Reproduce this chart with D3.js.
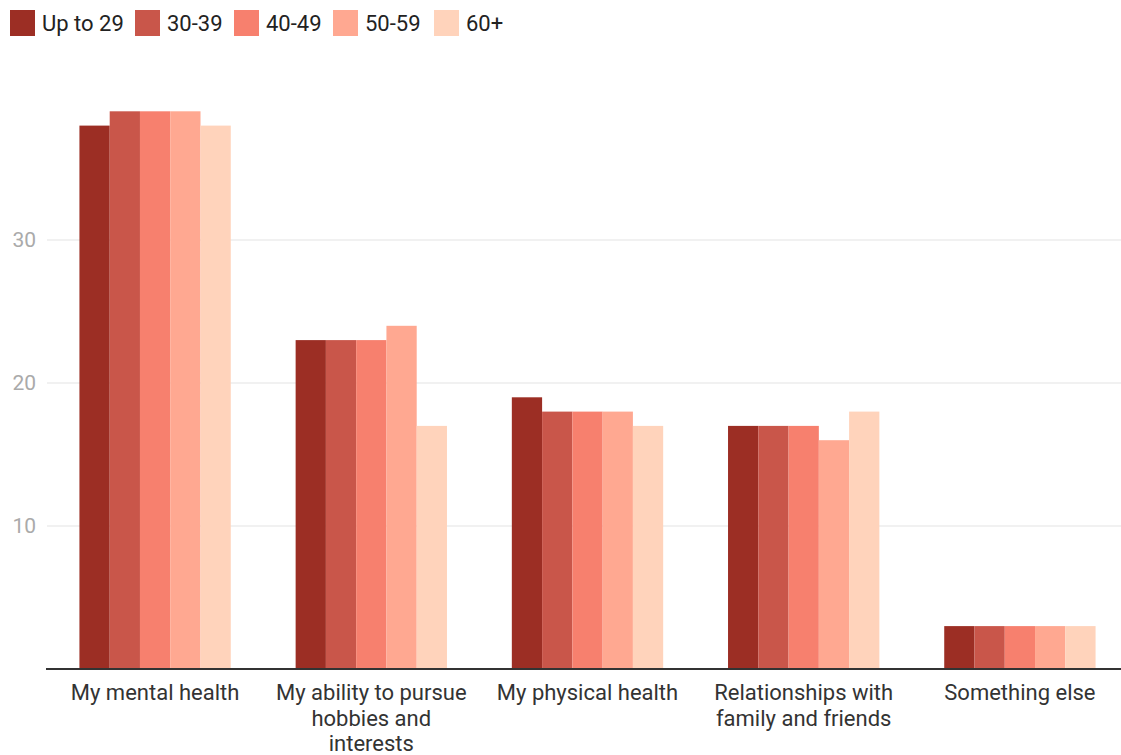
<!DOCTYPE html>
<html>
<head>
<meta charset="utf-8">
<script src="https://cdn.jsdelivr.net/npm/d3@7"></script>
<style>
  html, body { margin: 0; padding: 0; background: #fff; }
  svg { display: block; font-family: Roboto, "Noto Sans", sans-serif; }
</style>
</head>
<body>
<svg id="chart" width="1121" height="755"></svg>
<script>
// Survey categories and age groups
const categories = [
  "My mental health",
  "My ability to pursue hobbies and interests",
  "My physical health",
  "Relationships with family and friends",
  "Something else"
];
const ageGroups = ["Up to 29", "30-39", "40-49", "50-59", "60+"];

// Values per age group, in category order
const upTo29 = [38, 23, 19, 17, 3];
const age30s = [39, 23, 18, 17, 3];
const age40s = [39, 23, 18, 17, 3];
const age50s = [39, 24, 18, 16, 3];
const age60p = [38, 17, 17, 18, 3];

const yTicks = [10, 20, 30];
const colors = ["#9c2e24", "#c9564a", "#f7806e", "#ffa891", "#ffd3bb"];

const seriesValues = [upTo29, age30s, age40s, age50s, age60p];

const svg = d3.select("#chart");
const W = 1121;

const x0 = d3.scaleBand().domain(categories).range([47, 1128])
  .paddingInner(0.3).paddingOuter(0.15);
const x1 = d3.scaleBand().domain(ageGroups).range([0, x0.bandwidth()]);
const y = d3.scaleLinear().domain([0, 10]).range([669, 526]);
const color = d3.scaleOrdinal().domain(ageGroups).range(colors);

// Gridlines and y tick labels
const grid = svg.append("g");
grid.selectAll("line").data(yTicks).join("line")
  .attr("x1", 47).attr("x2", W)
  .attr("y1", d => y(d)).attr("y2", d => y(d))
  .attr("stroke", "#e3e3e3").attr("stroke-width", 1);
grid.selectAll("text").data(yTicks).join("text")
  .attr("x", 36).attr("y", d => y(d)).attr("dy", "0.35em")
  .attr("text-anchor", "end")
  .attr("fill", "#aaaaaa").attr("font-size", 21)
  .text(d => d);

// Bars
const groups = svg.append("g").selectAll("g").data(categories).join("g")
  .attr("transform", c => `translate(${x0(c)},0)`);
groups.selectAll("rect")
  .data((c, i) => ageGroups.map((a, j) => ({ age: a, value: seriesValues[j][i] })))
  .join("rect")
  .attr("x", d => x1(d.age))
  .attr("width", x1.bandwidth())
  .attr("y", d => y(d.value))
  .attr("height", d => y(0) - y(d.value))
  .attr("fill", d => color(d.age));

// Baseline
svg.append("line")
  .attr("x1", 46).attr("x2", W)
  .attr("y1", y(0)).attr("y2", y(0))
  .attr("stroke", "#333").attr("stroke-width", 2);

// Category labels, wrapped to fit
const maxW = 200;
const labels = svg.append("g").selectAll("text").data(categories).join("text")
  .attr("x", c => x0(c) + x0.bandwidth() / 2)
  .attr("y", 700)
  .attr("text-anchor", "middle")
  .attr("fill", "#333")
  .attr("font-size", 22);
labels.each(function (c) {
  const t = d3.select(this);
  const words = c.split(" ");
  let line = [];
  let tspan = t.append("tspan").attr("x", t.attr("x")).attr("dy", 0);
  for (const w of words) {
    line.push(w);
    tspan.text(line.join(" "));
    if (tspan.node().getComputedTextLength() > maxW && line.length > 1) {
      line.pop();
      tspan.text(line.join(" "));
      line = [w];
      tspan = t.append("tspan").attr("x", t.attr("x")).attr("dy", 25.5).text(w);
    }
  }
});

// Legend
const legendX = [10, 135, 234, 333, 434];
const legend = svg.append("g").selectAll("g").data(ageGroups).join("g")
  .attr("transform", (d, i) => `translate(${legendX[i]},10)`);
legend.append("rect")
  .attr("width", 25).attr("height", 26)
  .attr("fill", d => color(d));
legend.append("text")
  .attr("x", 32).attr("y", 13).attr("dy", "0.35em")
  .attr("fill", "#222").attr("font-size", 22)
  .text(d => d);
</script>
</body>
</html>
